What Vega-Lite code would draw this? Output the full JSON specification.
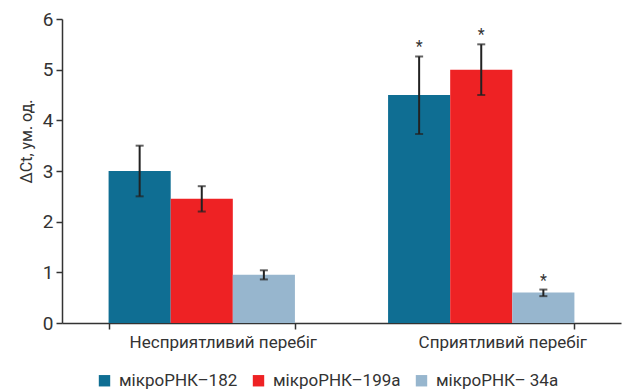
{
  "$schema": "https://vega.github.io/schema/vega-lite/v6.json",
  "autosize": {"type": "none"},
  "width": 559,
  "height": 304,
  "padding": {"left": 62, "top": 19, "right": 1, "bottom": 69},
  "background": "white",
  "config": {
    "font": "Roboto",
    "view": {"stroke": null},
    "axis": {"grid": false, "domainColor": "#333333", "tickColor": "#333333", "labelColor": "#333333", "titleColor": "#333333", "labelFont": "Roboto", "titleFont": "Roboto"}
  },
  "data": {
    "values": [
      {"group": "Несприятливий перебіг", "series": "мікроРНК–182", "value": 3.0, "lo": 2.5, "hi": 3.5, "star": ""},
      {"group": "Несприятливий перебіг", "series": "мікроРНК–199а", "value": 2.45, "lo": 2.2, "hi": 2.7, "star": ""},
      {"group": "Несприятливий перебіг", "series": "мікроРНК– 34а", "value": 0.95, "lo": 0.86, "hi": 1.04, "star": ""},
      {"group": "Сприятливий перебіг", "series": "мікроРНК–182", "value": 4.5, "lo": 3.73, "hi": 5.26, "star": "*"},
      {"group": "Сприятливий перебіг", "series": "мікроРНК–199а", "value": 5.0, "lo": 4.5, "hi": 5.5, "star": "*"},
      {"group": "Сприятливий перебіг", "series": "мікроРНК– 34а", "value": 0.6, "lo": 0.53, "hi": 0.66, "star": "*"}
    ]
  },
  "encoding": {
    "x": {
      "field": "group", "type": "nominal", "sort": null,
      "scale": {"paddingInner": 0.3333, "paddingOuter": 0.1667},
      "axis": {"title": null, "labelAngle": 0, "labelFontSize": 17, "labelLimit": 0, "labelOffset": 21, "labelPadding": 5, "tickBand": "extent", "tickSize": 6, "domainWidth": 1.5, "tickWidth": 1.5}
    },
    "xOffset": {"field": "series", "type": "nominal", "sort": ["мікроРНК–182", "мікроРНК–199а", "мікроРНК– 34а"], "scale": {"paddingInner": 0, "paddingOuter": 0}}
  },
  "layer": [
    {
      "mark": {"type": "bar"},
      "encoding": {
        "y": {
          "field": "value", "type": "quantitative",
          "scale": {"domain": [0, 6], "nice": false},
          "axis": {"title": "ΔCt, ум. од.", "titleFontSize": 16, "titleFontWeight": "normal", "titleY": 122, "titlePadding": 8, "labelFontSize": 19, "values": [0,1,2,3,4,5,6], "tickSize": 6, "labelPadding": 3, "domainWidth": 1.5, "tickWidth": 1.5}
        },
        "color": {
          "field": "series", "type": "nominal", "sort": ["мікроРНК–182", "мікроРНК–199а", "мікроРНК– 34а"],
          "scale": {"range": ["#0F6E93", "#EE2224", "#97B6CE"]},
          "legend": {"title": null, "orient": "none", "direction": "horizontal", "legendX": 34, "legendY": 353, "symbolType": "square", "symbolSize": 130, "symbolStrokeWidth": 0, "labelFontSize": 17, "labelColor": "#333333", "labelFont": "Roboto", "columnPadding": 12, "labelOffset": 6, "labelLimit": 0}
        }
      }
    },
    {
      "mark": {"type": "rule", "color": "#222222", "strokeWidth": 2},
      "encoding": {
        "y": {"field": "lo", "type": "quantitative", "axis": {"title": "ΔCt, ум. од.", "titleFontSize": 16, "titleFontWeight": "normal", "titleY": 122, "titlePadding": 8, "labelFontSize": 19, "values": [0,1,2,3,4,5,6], "tickSize": 6, "labelPadding": 3, "domainWidth": 1.5, "tickWidth": 1.5}},
        "y2": {"field": "hi"}
      }
    },
    {
      "mark": {"type": "tick", "color": "#222222", "thickness": 2, "size": 8},
      "encoding": {"y": {"field": "lo", "type": "quantitative", "axis": {"title": "ΔCt, ум. од.", "titleFontSize": 16, "titleFontWeight": "normal", "titleY": 122, "titlePadding": 8, "labelFontSize": 19, "values": [0,1,2,3,4,5,6], "tickSize": 6, "labelPadding": 3, "domainWidth": 1.5, "tickWidth": 1.5}}}
    },
    {
      "mark": {"type": "tick", "color": "#222222", "thickness": 2, "size": 8},
      "encoding": {"y": {"field": "hi", "type": "quantitative", "axis": {"title": "ΔCt, ум. од.", "titleFontSize": 16, "titleFontWeight": "normal", "titleY": 122, "titlePadding": 8, "labelFontSize": 19, "values": [0,1,2,3,4,5,6], "tickSize": 6, "labelPadding": 3, "domainWidth": 1.5, "tickWidth": 1.5}}}
    },
    {
      "mark": {"type": "text", "dy": -9, "fontSize": 16, "color": "#333333"},
      "encoding": {"y": {"field": "hi", "type": "quantitative", "axis": {"title": "ΔCt, ум. од.", "titleFontSize": 16, "titleFontWeight": "normal", "titleY": 122, "titlePadding": 8, "labelFontSize": 19, "values": [0,1,2,3,4,5,6], "tickSize": 6, "labelPadding": 3, "domainWidth": 1.5, "tickWidth": 1.5}}, "text": {"field": "star"}}
    }
  ]
}
